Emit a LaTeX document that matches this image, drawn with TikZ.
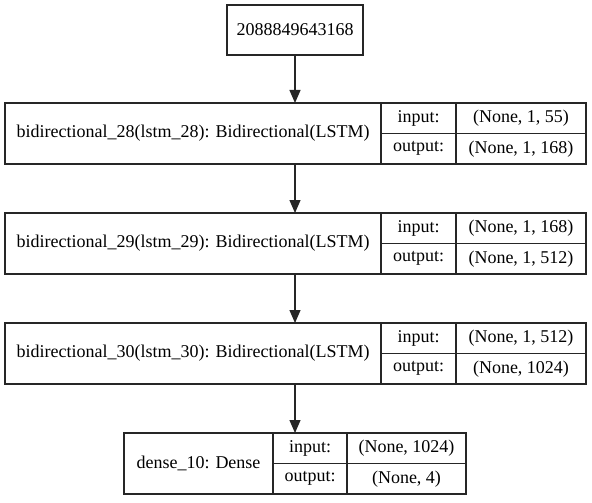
\documentclass[tikz,border=0pt]{standalone}
\usepackage{fontspec}
\setmainfont{Liberation Serif}
\usepackage{tikz}
\usetikzlibrary{arrows.meta}

\begin{document}
\begin{tikzpicture}[x=1pt,y=-1pt]%
  \tikzstyle{rec}=[draw=black!85,rectangle,line width=1.1pt,inner sep=0,outer sep=0,anchor=north west,font=\rmfamily\fontsize{18}{20}\selectfont]
  \tikzstyle{half}=[rec,minimum height=30.5pt]
  \tikzstyle{conn}=[draw=black!85,line width=1.2pt,-{Triangle[length=13pt,width=11pt]}]
  \useasboundingbox (0,0) rectangle (592,503);
  \node(0)[rec,minimum width=136pt,minimum height=50pt] at (227,5) {2088849643168};
  % bidirectional_28
  \node(1)[rec,minimum width=376pt,minimum height=61pt] at (5,103) {bidirectional\_28(lstm\_28): Bidirectional(LSTM)};
  \node(1i)[half,minimum width=75pt] at (1.north east) {input:};
  \node(1o)[half,minimum width=75pt] at (1i.south west) {output:};
  \node(1iv)[half,minimum width=130pt] at (1i.north east) {(None, 1, 55)};
  \node(1ov)[half,minimum width=130pt] at (1o.north east) {(None, 1, 168)};
  % bidirectional_29
  \node(2)[rec,minimum width=376pt,minimum height=61pt] at (5,213) {bidirectional\_29(lstm\_29): Bidirectional(LSTM)};
  \node(2i)[half,minimum width=75pt] at (2.north east) {input:};
  \node(2o)[half,minimum width=75pt] at (2i.south west) {output:};
  \node(2iv)[half,minimum width=130pt] at (2i.north east) {(None, 1, 168)};
  \node(2ov)[half,minimum width=130pt] at (2o.north east) {(None, 1, 512)};
  % bidirectional_30
  \node(3)[rec,minimum width=376pt,minimum height=61pt] at (5,323) {bidirectional\_30(lstm\_30): Bidirectional(LSTM)};
  \node(3i)[half,minimum width=75pt] at (3.north east) {input:};
  \node(3o)[half,minimum width=75pt] at (3i.south west) {output:};
  \node(3iv)[half,minimum width=130pt] at (3i.north east) {(None, 1, 512)};
  \node(3ov)[half,minimum width=130pt] at (3o.north east) {(None, 1024)};
  % dense_10
  \node(4)[rec,minimum width=149pt,minimum height=61pt] at (124,433) {dense\_10: Dense};
  \node(4i)[half,minimum width=74pt] at (4.north east) {input:};
  \node(4o)[half,minimum width=74pt] at (4i.south west) {output:};
  \node(4iv)[half,minimum width=119pt] at (4i.north east) {(None, 1024)};
  \node(4ov)[half,minimum width=119pt] at (4o.north east) {(None, 4)};
  \path[conn] (0.south) -- (0.south |- 1.north);
  \path[conn] (0.south |- 1.south) -- (0.south |- 2.north);
  \path[conn] (0.south |- 2.south) -- (0.south |- 3.north);
  \path[conn] (0.south |- 3.south) -- (4iv.north -| 0.south);
\end{tikzpicture}
\end{document}
